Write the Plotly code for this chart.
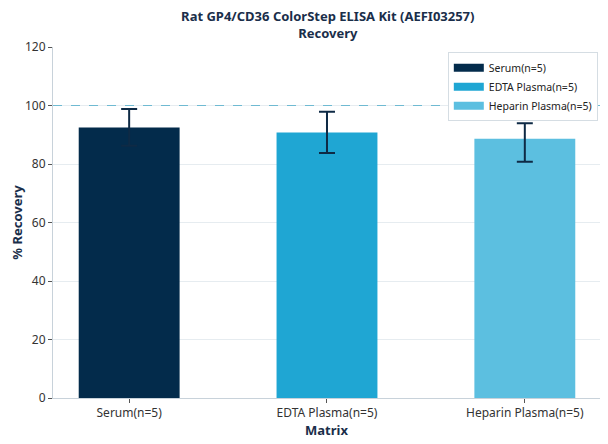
import plotly.graph_objects as go

matrices = ["Serum(n=5)", "EDTA Plasma(n=5)", "Heparin Plasma(n=5)"]
recovery = [92.5, 90.8, 88.6]
err_plus = [6.3, 7.1, 5.3]
err_minus = [6.3, 7.0, 7.8]
colors = ["#032b4b", "#1fa6d3", "#5cbfe0"]

fig = go.Figure()

for i, m in enumerate(matrices):
    fig.add_trace(
        go.Bar(
            x=[m],
            y=[recovery[i]],
            name=m,
            width=0.51,
            showlegend=False,
            marker=dict(color=colors[i], line=dict(width=0)),
            error_y=dict(
                type="data",
                symmetric=False,
                array=[err_plus[i]],
                arrayminus=[err_minus[i]],
                color="#0e2a45",
                thickness=2,
                width=8,
            ),
        )
    )
    # legend entry with a wide swatch like the reference
    fig.add_trace(
        go.Scatter(
            x=[None],
            y=[None],
            mode="lines",
            name=m,
            line=dict(color=colors[i], width=8),
        )
    )

fig.add_hline(y=100, line=dict(color="#6fbad2", width=1, dash="dash"))

# page body adds 8px offset, so figure is 8px smaller than the window
fig.update_layout(
    width=600,
    height=436,
    barmode="overlay",
    plot_bgcolor="white",
    paper_bgcolor="white",
    font=dict(family="Noto Sans", size=12, color="#333333"),
    margin=dict(l=45, r=8, t=39, b=46, autoexpand=False),
    title=dict(
        text="<b>Rat GP4/CD36 ColorStep ELISA Kit (AEFI03257)<br>Recovery</b>",
        x=0.533,
        xanchor="center",
        xref="container",
        y=1.0,
        yanchor="bottom",
        yref="paper",
        pad=dict(b=26),
        font=dict(size=13, color="#1a2e4a"),
    ),
    legend=dict(
        x=0.996,
        y=0.985,
        xanchor="right",
        yanchor="top",
        bordercolor="#d5dde3",
        borderwidth=1,
        bgcolor="white",
        font=dict(size=10.5, color="#222222"),
        tracegroupgap=0,
        itemwidth=30,
    ),
    showlegend=True,
)

fig.update_xaxes(
    title=dict(text="<b>Matrix</b>", font=dict(size=13, color="#1a2e4a"), standoff=2),
    range=[-0.385, 2.38],
    showline=True,
    linecolor="#c8d2da",
    ticks="outside",
    ticklen=4,
    tickcolor="#555555",
    showgrid=False,
    automargin=False,
)

fig.update_yaxes(
    title=dict(text="<b>% Recovery</b>", font=dict(size=13, color="#1a2e4a"), standoff=8),
    range=[0, 120],
    dtick=20,
    showline=True,
    linecolor="#c8d2da",
    ticks="outside",
    ticklen=4,
    tickcolor="#555555",
    showgrid=True,
    gridcolor="#e6ecf0",
    zeroline=False,
    automargin=False,
)

fig.write_html("out.html")
